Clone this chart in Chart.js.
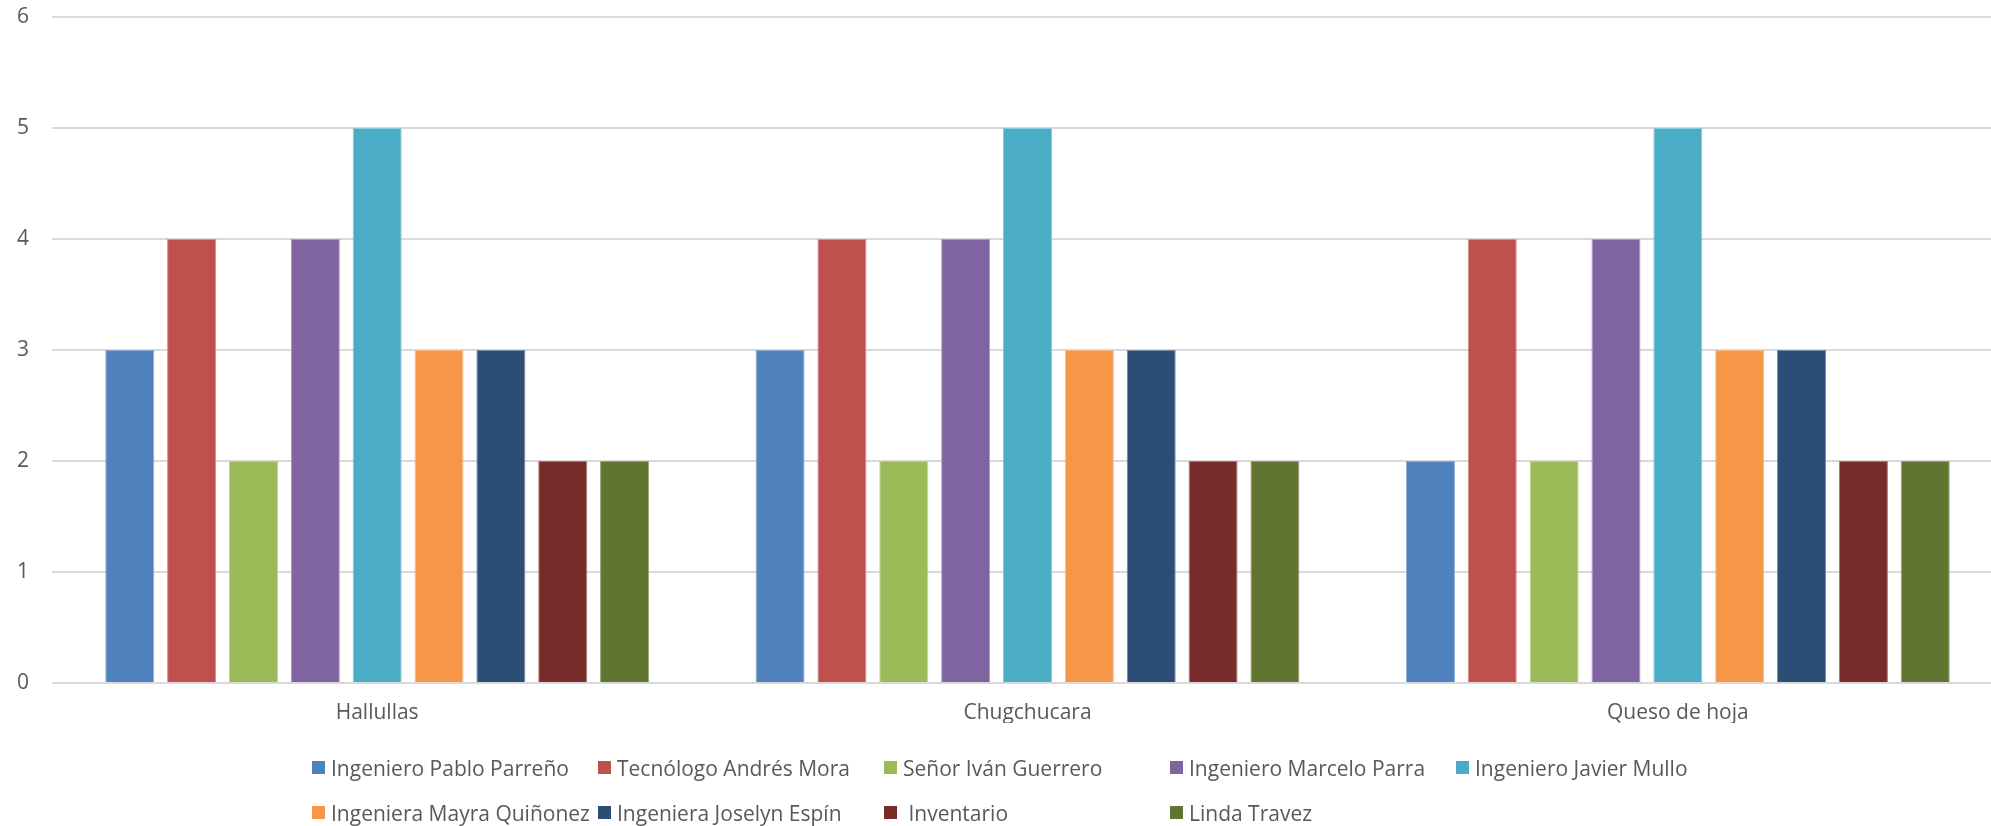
<!DOCTYPE html>
<html>
<head>
<meta charset="utf-8">
<script src="https://cdn.jsdelivr.net/npm/chart.js@4.4.0/dist/chart.umd.min.js"></script>
<style>
    html, body {
        margin: 0;
        padding: 0;
        background: #ffffff;
        overflow: hidden;
    }
    .my-chart {
        position: relative;
        width: 2003px;
        height: 826px;
    }
    .legend {
        position: absolute;
        left: 312px;
        top: 745px;
        display: grid;
        grid-template-columns: repeat(5, 286px);
        grid-auto-rows: 45px;
        font-family: 'Open Sans', sans-serif;
        font-size: 21px;
        color: #595959;
    }
    .legend-item {
        display: flex;
        align-items: center;
        white-space: pre;
    }
    .legend-box {
        width: 13px;
        height: 13px;
        margin-right: 6px;
        flex: none;
    }
</style>
</head>
<body>
<div class="my-chart">
    <canvas id="products-bar-chart"></canvas>
    <div class="legend" id="products-legend"></div>
</div>
<script>
const categories = ['Hallullas', 'Chugchucara', 'Queso de hoja'];

const seriesNames = [
    'Ingeniero Pablo Parreño',
    'Tecnólogo Andrés Mora',
    'Señor Iván Guerrero',
    'Ingeniero Marcelo Parra',
    'Ingeniero Javier Mullo',
    'Ingeniera Mayra Quiñonez',
    'Ingeniera Joselyn Espín',
    ' Inventario',
    'Linda Travez',
];

const pabloParreno = [3, 3, 2];
const andresMora = [4, 4, 4];
const ivanGuerrero = [2, 2, 2];
const marceloParra = [4, 4, 4];
const javierMullo = [5, 5, 5];
const mayraQuinonez = [3, 3, 3];
const joselynEspin = [3, 3, 3];
const inventario = [2, 2, 2];
const lindaTravez = [2, 2, 2];

const yTicks = [0, 1, 2, 3, 4, 5, 6];

const seriesValues = [
    pabloParreno, andresMora, ivanGuerrero, marceloParra, javierMullo,
    mayraQuinonez, joselynEspin, inventario, lindaTravez,
];

const colors = [
    '#4F81BD', '#C0504D', '#9BBB59', '#8064A2', '#4BACC6',
    '#F79646', '#2C4D75', '#772C2A', '#5F7530',
];

const textColor = '#595959';
const gridColor = '#D9D9D9';

// mix a hex colour with white, for the thin bar outline
function lighten(hex, amount) {
    const n = parseInt(hex.slice(1), 16);
    const mix = c => Math.round(c + (255 - c) * amount);
    return `rgb(${mix(n >> 16)}, ${mix((n >> 8) & 255)}, ${mix(n & 255)})`;
}

Chart.defaults.font.family = "'Open Sans', sans-serif";
Chart.defaults.font.size = 21;
Chart.defaults.color = textColor;

const target = document.getElementById('products-bar-chart');

let chart = new Chart(
    target,
    {
        type: 'bar',
        options: {
            responsive: true,
            maintainAspectRatio: false,
            animation: false,
            layout: {
                padding: { left: 17, right: 0, top: 17, bottom: 103 }
            },
            scales: {
                x: {
                    grid: {
                        display: false,
                    },
                    border: {
                        display: false,
                    },
                    ticks: {
                        padding: 9,
                        color: textColor,
                    },
                    afterFit: (axis) => {
                        axis.height = 40;
                        axis.paddingLeft = 0;
                        axis.paddingRight = 0;
                    }
                },
                y: {
                    min: 0,
                    max: 6,
                    afterBuildTicks: (axis) => {
                        axis.ticks = yTicks.map(v => ({ value: v }));
                    },
                    grid: {
                        color: gridColor,
                        lineWidth: 2,
                        drawTicks: false,
                    },
                    border: {
                        display: false,
                    },
                    ticks: {
                        padding: 23,
                        color: textColor,
                    },
                    afterFit: (axis) => {
                        axis.width = 35;
                        axis.paddingTop = 0;
                        axis.paddingBottom = 0;
                    }
                },
            },
            plugins: {
                legend: {
                    display: false
                },
                tooltip: {
                    enabled: false
                }
            }
        },
        data: {
            labels: categories,
            datasets: seriesNames.map((name, i) => ({
                label: name,
                data: seriesValues[i],
                backgroundColor: colors[i],
                borderColor: lighten(colors[i], .35),
                borderWidth: 1,
                barPercentage: .793,
                categoryPercentage: .856,
            }))
        }
    }
);

// legend laid out in Excel-like columns
const legendEl = document.getElementById('products-legend');
seriesNames.forEach((name, i) => {
    const item = document.createElement('div');
    item.className = 'legend-item';
    const box = document.createElement('span');
    box.className = 'legend-box';
    box.style.background = colors[i];
    const label = document.createElement('span');
    label.textContent = name;
    item.appendChild(box);
    item.appendChild(label);
    legendEl.appendChild(item);
});
</script>
</body>
</html>
